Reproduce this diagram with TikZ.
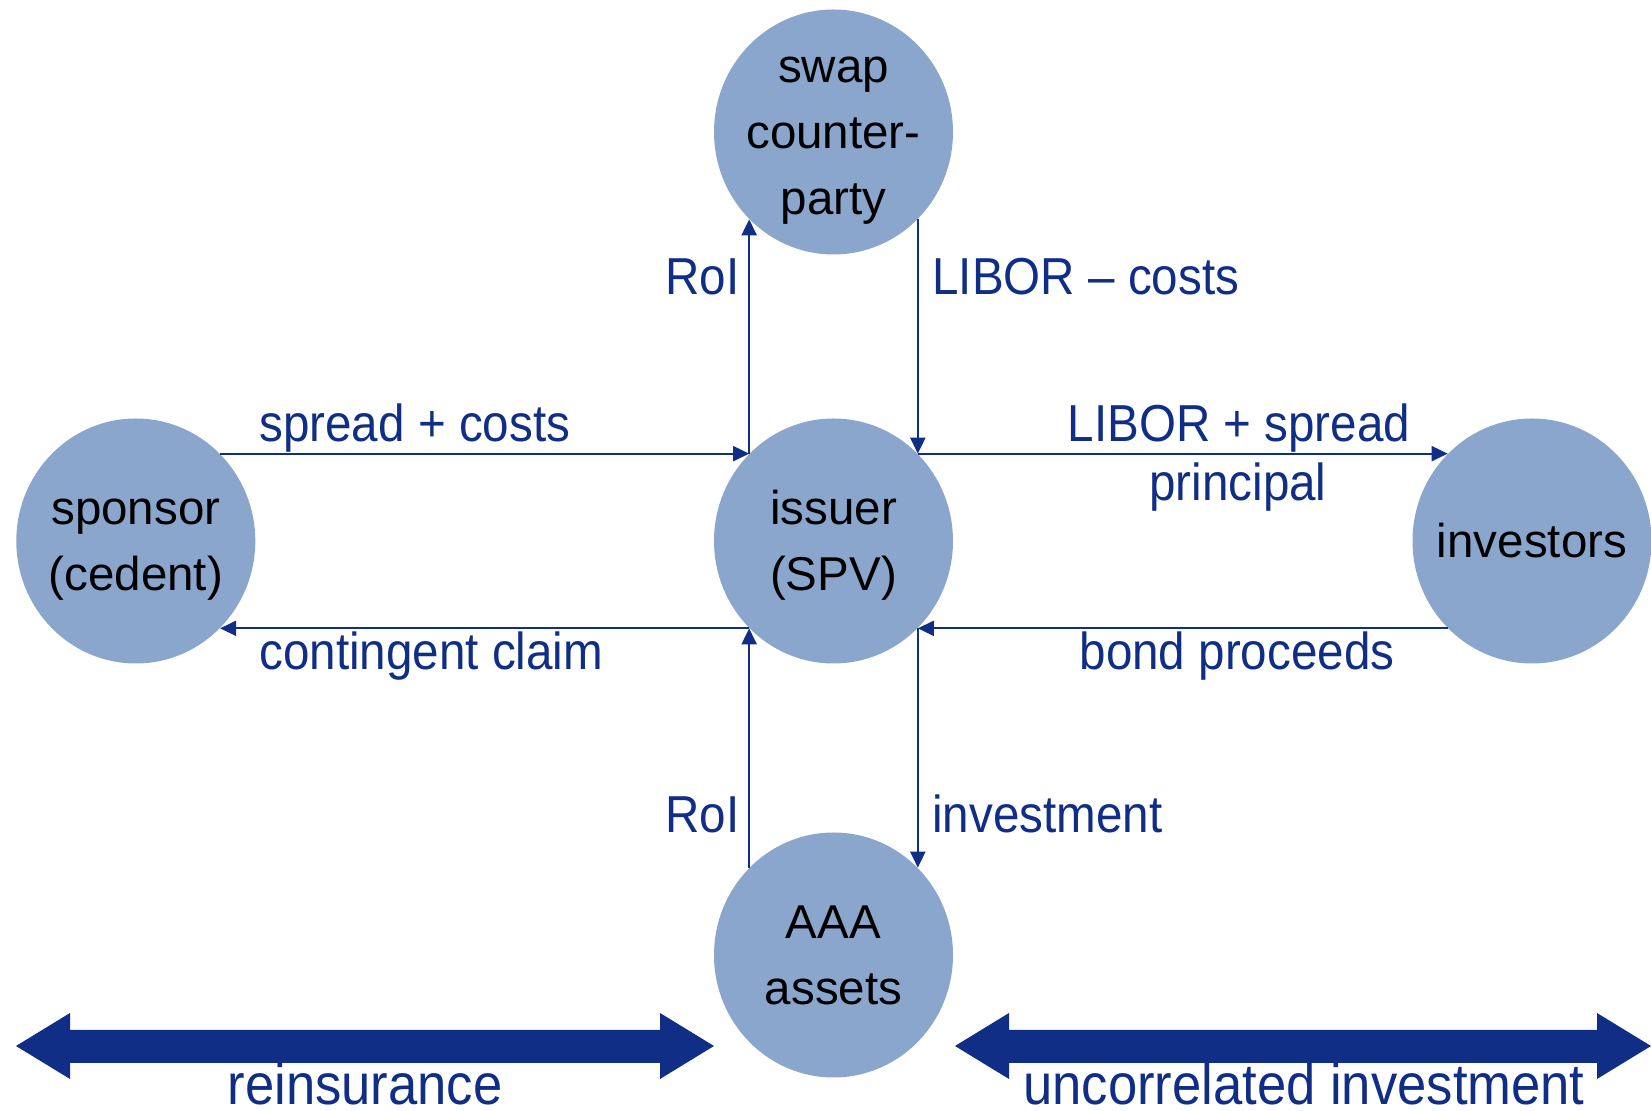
\documentclass[tikz,border=0pt]{standalone}
\usepackage{fontspec}
\setmainfont{Liberation Sans}
\newfontfamily\lblfont{Liberation Sans}[FakeStretch=0.915]
\usetikzlibrary{shapes.geometric,arrows.meta}
\definecolor{disc}{RGB}{138,166,204}
\definecolor{navy}{RGB}{16,46,134}
% strut that keeps the text block of every disc centred the same way
\newcommand{\ctrstrut}{\rule[-6pt]{0pt}{29pt}}

\begin{document}
\begin{tikzpicture}[x=0.5pt,y=-0.5pt,
  party/.style={ellipse, fill=disc, minimum width=119.5pt, minimum height=122.5pt,
    inner sep=0pt},
  partytext/.style={inner sep=0pt, align=center, font=\fontsize{23.75}{33}\selectfont},
  flow/.style={draw=navy, line width=1pt, -{Triangle[length=8pt,width=7.5pt]}},
  lbl/.style={text=navy, inner sep=0pt, font=\lblfont\fontsize{26}{30}\selectfont},
  band/.style={fill=navy},
  bandlbl/.style={text=navy, inner sep=0pt, font=\lblfont\fontsize{28.75}{32}\selectfont}]
\useasboundingbox (0,0) rectangle (1651,1111);
\fill[white] (0,0) rectangle (1651,1111);

% the two wide double arrows at the bottom
\fill[band] (16,1046) -- (70,1013) -- (70,1030) -- (660,1030) -- (660,1013) -- (714,1046)
  -- (660,1079) -- (660,1063) -- (70,1063) -- (70,1079) -- cycle;
\fill[band] (955,1046) -- (1009,1013) -- (1009,1030) -- (1597,1030) -- (1597,1013) -- (1651,1046)
  -- (1597,1079) -- (1597,1063) -- (1009,1063) -- (1009,1079) -- cycle;

% parties: a disc and its caption
\node[party] (swap)      at (833.5,132) {};
\node[party] (sponsor)   at (135.8,541) {};
\node[party] (issuer)    at (833.5,541) {};
\node[party] (investors) at (1532,541)  {};
\node[party] (aaa)       at (833.5,955) {};
\node[partytext] (swap-t)      at (swap)      {\ctrstrut swap\\counter-\\party\ctrstrut};
\node[partytext] (sponsor-t)   at (sponsor)   {\ctrstrut sponsor\\(cedent)\ctrstrut};
\node[partytext] (issuer-t)    at (issuer)    {\ctrstrut issuer\\(SPV)\ctrstrut};
\node[partytext] (investors-t) at (investors) {\ctrstrut investors\ctrstrut};
\node[partytext] (aaa-t)       at (aaa)       {\ctrstrut AAA\\assets\ctrstrut};

% cash flows
\draw[flow] (sponsor.46)    -- (issuer.134);
\draw[flow] (issuer.226)    -- (sponsor.314);
\draw[flow] (issuer.134)    -- (swap.226);
\draw[flow] (swap.314)      -- (issuer.46);
\draw[flow] (issuer.46)     -- (investors.134);
\draw[flow] (investors.226) -- (issuer.314);
\draw[flow] (aaa.134)       -- (issuer.226);
\draw[flow] (issuer.314)    -- (aaa.46);

% flow labels
\node[lbl, anchor=base east] (l1) at (740,295)  {RoI};
\node[lbl, anchor=base west] (l2) at (932,295)  {LIBOR – costs};
\node[lbl, anchor=base west] (l3) at (259,442)  {spread + costs};
\node[lbl, anchor=base]      (l4) at (1239,442) {LIBOR + spread};
\node[lbl, anchor=base]      (l5) at (1238,501) {principal};
\node[lbl, anchor=base west] (l6) at (259,670)  {contingent claim};
\node[lbl, anchor=base]      (l7) at (1237,670) {bond proceeds};
\node[lbl, anchor=base east] (l8) at (740,833)  {RoI};
\node[lbl, anchor=base west] (l9) at (932,833)  {investment};

% band labels
\node[bandlbl, anchor=base] (b1) at (365,1105)  {reinsurance};
\node[bandlbl, anchor=base] (b2) at (1304,1105) {uncorrelated investment};
\end{tikzpicture}
\end{document}
